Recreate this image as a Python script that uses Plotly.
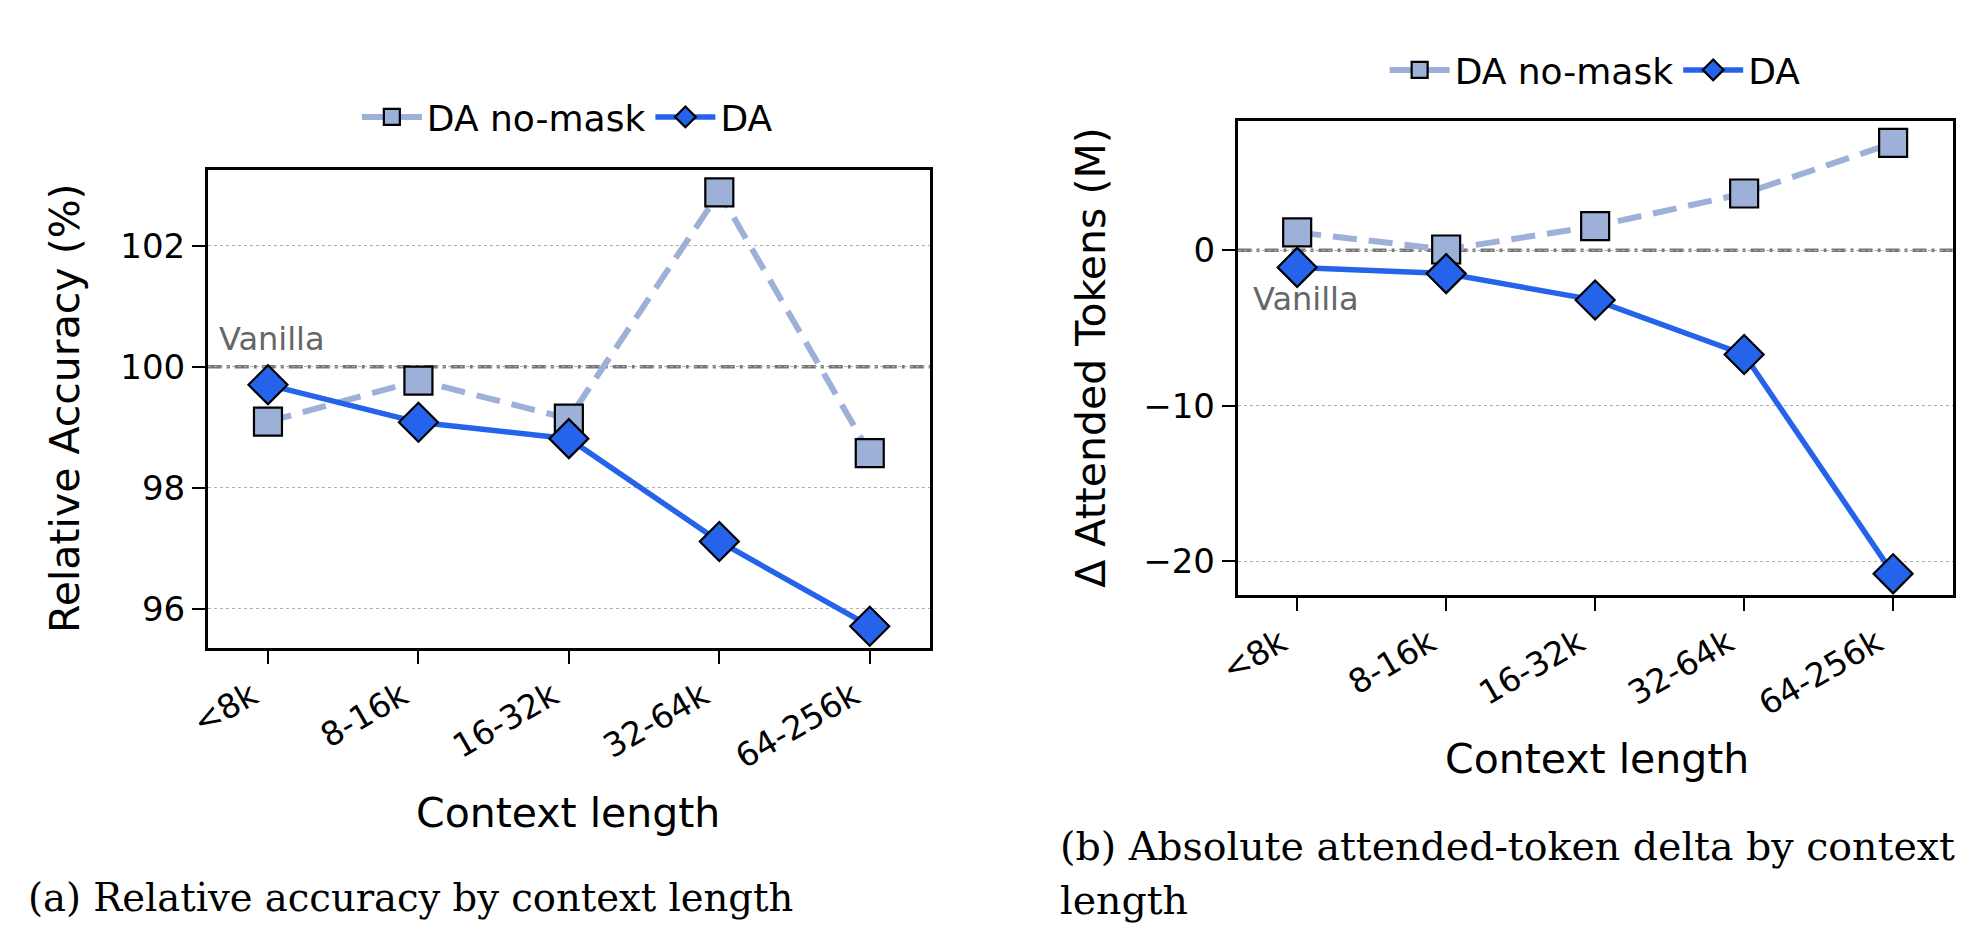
import plotly.graph_objects as go

contexts = ["<8k", "8-16k", "16-32k", "32-64k", "64-256k"]

# (a) relative accuracy (%), vanilla = 100
acc_nomask = [99.09, 99.77, 99.14, 102.88, 98.57]
acc_da = [99.7, 99.08, 98.81, 97.11, 95.71]

# (b) delta attended tokens (M), vanilla = 0
tok_nomask = [1.15, 0.05, 1.55, 3.65, 6.9]
tok_da = [-1.1, -1.5, -3.2, -6.7, -20.8]

C_DA = "#2563eb"
C_NOMASK = "#9db0d8"
FONT = "DejaVu Sans"
SERIF = "DejaVu Serif"

# screen-pixel -> paper helpers (page mapping measured from test renders)
SX, OFFX, OFFY = 0.99, 28, 8
W, H = 1969, 924


def px(sx):
    return (sx - OFFX) / SX / W


def py(sy):
    return 1 - (sy - OFFY) / H


fig = go.Figure()


def add_pair(y_nomask, y_da, xa, ya, leg):
    fig.add_trace(go.Scatter(
        x=contexts, y=y_nomask, name="DA no-mask", mode="lines+markers",
        xaxis=xa, yaxis=ya, legend=leg,
        line=dict(color=C_NOMASK, width=6, dash="24px,12px"),
        marker=dict(symbol="square", size=28, color=C_NOMASK,
                    line=dict(color="black", width=2.2)),
    ))
    fig.add_trace(go.Scatter(
        x=contexts, y=y_da, name="DA", mode="lines+markers",
        xaxis=xa, yaxis=ya, legend=leg,
        line=dict(color=C_DA, width=5.5),
        marker=dict(symbol="diamond", size=30, color=C_DA,
                    line=dict(color="black", width=2.2)),
    ))


add_pair(acc_nomask, acc_da, "x", "y", "legend")
add_pair(tok_nomask, tok_da, "x2", "y2", "legend2")

xstyle = dict(
    type="category", categoryorder="array", categoryarray=contexts,
    range=[-0.4, 4.4], showline=True, mirror=True, linecolor="black",
    linewidth=2.5, ticks="outside", ticklen=13, tickwidth=2, tickcolor="black",
    tickangle=-30, ticklabelshift=-16,
    tickfont=dict(family=FONT, size=33, color="black"),
    showgrid=False, zeroline=False,
)
ystyle = dict(
    showline=True, mirror=True, linecolor="black", linewidth=2.5,
    ticks="outside", ticklen=13, tickwidth=2, tickcolor="black",
    tickfont=dict(family=FONT, size=34, color="black"),
    showgrid=True, gridcolor="#b0b0b0", gridwidth=1.3, griddash="dot",
    zeroline=False,
)

fig.update_layout(
    width=W, height=H,
    paper_bgcolor="white", plot_bgcolor="white",
    margin=dict(l=0, r=0, t=0, b=0),
    font=dict(family=FONT, color="black"),
    xaxis=dict(xstyle, domain=[px(206), px(929)], anchor="y"),
    yaxis=dict(ystyle, domain=[py(648), py(170)], anchor="x",
               range=[95.35, 103.25], tickvals=[96, 98, 100, 102]),
    xaxis2=dict(xstyle, domain=[px(1237), px(1953)], anchor="y2"),
    yaxis2=dict(ystyle, domain=[py(595), py(121)], anchor="x2",
                range=[-22.16, 8.31], tickvals=[-20, -10, 0]),
    legend=dict(orientation="h", x=px(566), y=py(117),
                xanchor="center", yanchor="middle", itemwidth=60,
                font=dict(family=FONT, size=36), bgcolor="rgba(0,0,0,0)"),
    legend2=dict(orientation="h", x=px(1595), y=py(70),
                 xanchor="center", yanchor="middle", itemwidth=60,
                 font=dict(family=FONT, size=36), bgcolor="rgba(0,0,0,0)"),
    showlegend=True,
)

# vanilla reference lines
for xr, yr, yv in [("x", "y", 100), ("x2", "y2", 0)]:
    fig.add_shape(type="line", xref=f"{xr} domain", yref=yr, x0=0, x1=1,
                  y0=yv, y1=yv, layer="below",
                  line=dict(color="#777777", width=3.5, dash="14px,5px,3px,5px"))

fig.add_annotation(x=-0.34, y=100.45, xref="x", yref="y", text="Vanilla",
                   showarrow=False, xanchor="left", yanchor="middle",
                   font=dict(family=FONT, size=32, color="#666666"))
fig.add_annotation(x=-0.31, y=-3.15, xref="x2", yref="y2", text="Vanilla",
                   showarrow=False, xanchor="left", yanchor="middle",
                   font=dict(family=FONT, size=32, color="#666666"))

# axis titles
fig.add_annotation(x=px(63), y=py(408), xref="paper", yref="paper",
                   text="Relative Accuracy (%)", textangle=-90, showarrow=False,
                   xanchor="center", yanchor="middle",
                   font=dict(family=FONT, size=41))
fig.add_annotation(x=px(1090), y=py(357), xref="paper", yref="paper",
                   text="Δ Attended Tokens (M)", textangle=-90, showarrow=False,
                   xanchor="center", yanchor="middle",
                   font=dict(family=FONT, size=41))
fig.add_annotation(x=px(567), y=py(813), xref="paper", yref="paper",
                   text="Context length", showarrow=False,
                   xanchor="center", yanchor="middle",
                   font=dict(family=FONT, size=41))
fig.add_annotation(x=px(1597), y=py(759), xref="paper", yref="paper",
                   text="Context length", showarrow=False,
                   xanchor="center", yanchor="middle",
                   font=dict(family=FONT, size=41))

# captions
fig.add_annotation(x=px(24), y=py(897), xref="paper", yref="paper",
                   text="(a) Relative accuracy by context length",
                   showarrow=False, xanchor="left", yanchor="middle",
                   font=dict(family=SERIF, size=38.5))
fig.add_annotation(x=px(1057), y=py(846), xref="paper", yref="paper",
                   text="(b) Absolute attended-token delta by context",
                   showarrow=False, xanchor="left", yanchor="middle",
                   font=dict(family=SERIF, size=39.5))
fig.add_annotation(x=px(1057), y=py(900), xref="paper", yref="paper",
                   text="length", showarrow=False, xanchor="left",
                   yanchor="middle", font=dict(family=SERIF, size=39.5))

fig.write_html("out.html")
